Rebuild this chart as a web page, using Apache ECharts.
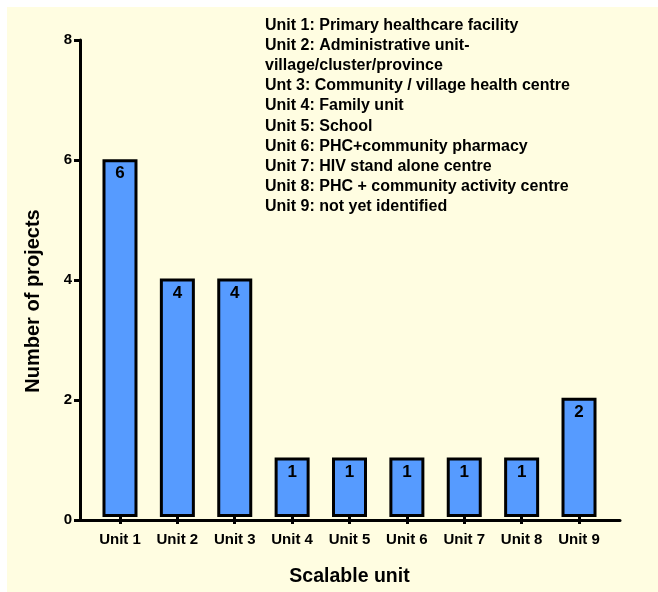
<!DOCTYPE html>
<html>
<head>
<meta charset="utf-8">
<script src="https://cdn.jsdelivr.net/npm/echarts@6/dist/echarts.min.js"></script>
<style>
  body { margin: 0; background: #ffffff; }
  #main {
    position: absolute;
    left: 7px;
    top: 7px;
    width: 651px;
    height: 585px;
    background: #fffde1;
  }
</style>
</head>
<body>
<div id="main"></div>
<script>
const units = ['Unit 1', 'Unit 2', 'Unit 3', 'Unit 4', 'Unit 5', 'Unit 6', 'Unit 7', 'Unit 8', 'Unit 9'];
const projects = [6, 4, 4, 1, 1, 1, 1, 1, 2];
const unitNotes = [
  'Unit 1: Primary healthcare facility',
  'Unit 2: Administrative unit-',
  'village/cluster/province',
  'Unt 3: Community / village health centre',
  'Unit 4: Family unit',
  'Unit 5: School',
  'Unit 6: PHC+community pharmacy',
  'Unit 7: HIV stand alone centre',
  'Unit 8: PHC + community activity centre',
  'Unit 9: not yet identified'
];

const font = 'Liberation Sans, Arial, Helvetica, sans-serif';
const chart = echarts.init(document.getElementById('main'));

const option = {
  backgroundColor: 'transparent',
  animation: false,
  textStyle: { fontFamily: font },
  grid: [
    // frame with the axis lines
    { left: 73, top: 33, right: 38, bottom: 72 },
    // bars, a bit narrower than the frame
    { left: 84.3, top: 33, right: 50.3, bottom: 72 }
  ],
  xAxis: [
    {
      gridIndex: 0,
      type: 'value',
      min: 0,
      max: 1,
      axisLine: { show: true, lineStyle: { color: '#000', width: 3 } },
      axisTick: { show: false },
      axisLabel: { show: false },
      splitLine: { show: false }
    },
    {
      gridIndex: 1,
      type: 'category',
      data: units,
      axisLine: { show: false },
      axisTick: { show: true, alignWithLabel: true, length: 7, lineStyle: { color: '#000', width: 3 } },
      axisLabel: { color: '#000', fontWeight: 'bold', fontSize: 15, margin: 15, fontFamily: font },
      name: 'Scalable unit',
      nameLocation: 'middle',
      nameGap: 50,
      nameTextStyle: { color: '#000', fontWeight: 'bold', fontSize: 19.5, fontFamily: font }
    }
  ],
  yAxis: [
    {
      gridIndex: 0,
      type: 'value',
      min: 0,
      max: 8,
      interval: 2,
      axisLine: { show: true, lineStyle: { color: '#000', width: 3 } },
      axisTick: { show: true, length: 6, lineStyle: { color: '#000', width: 3 } },
      axisLabel: { color: '#000', fontWeight: 'bold', fontSize: 15, margin: 8, fontFamily: font },
      splitLine: { show: false },
      name: 'Number of projects',
      nameLocation: 'middle',
      nameRotate: 90,
      nameGap: 37,
      nameTextStyle: {
        color: '#000', fontWeight: 'bold', fontSize: 20, fontFamily: font,
        // push the title a little below the axis middle, as in the original
        padding: [0, 42, 0, 0]
      }
    },
    {
      gridIndex: 1,
      type: 'value',
      min: 0,
      max: 8,
      interval: 2,
      show: false
    }
  ],
  series: [
    {
      type: 'bar',
      xAxisIndex: 1,
      yAxisIndex: 1,
      data: projects,
      barWidth: 35,
      itemStyle: { color: '#569bff', borderColor: '#000', borderWidth: 3 },
      label: {
        show: true,
        position: 'insideTop',
        distance: 6,
        color: '#000',
        fontWeight: 'bold',
        fontSize: 17,
        fontFamily: font
      }
    }
  ],
  graphic: [
    {
      type: 'text',
      left: 258,
      top: 8,
      style: {
        text: unitNotes.join('\n'),
        fill: '#000',
        font: 'bold 16px ' + font,
        lineHeight: 20.2
      }
    }
  ]
};

chart.setOption(option);
</script>
</body>
</html>
